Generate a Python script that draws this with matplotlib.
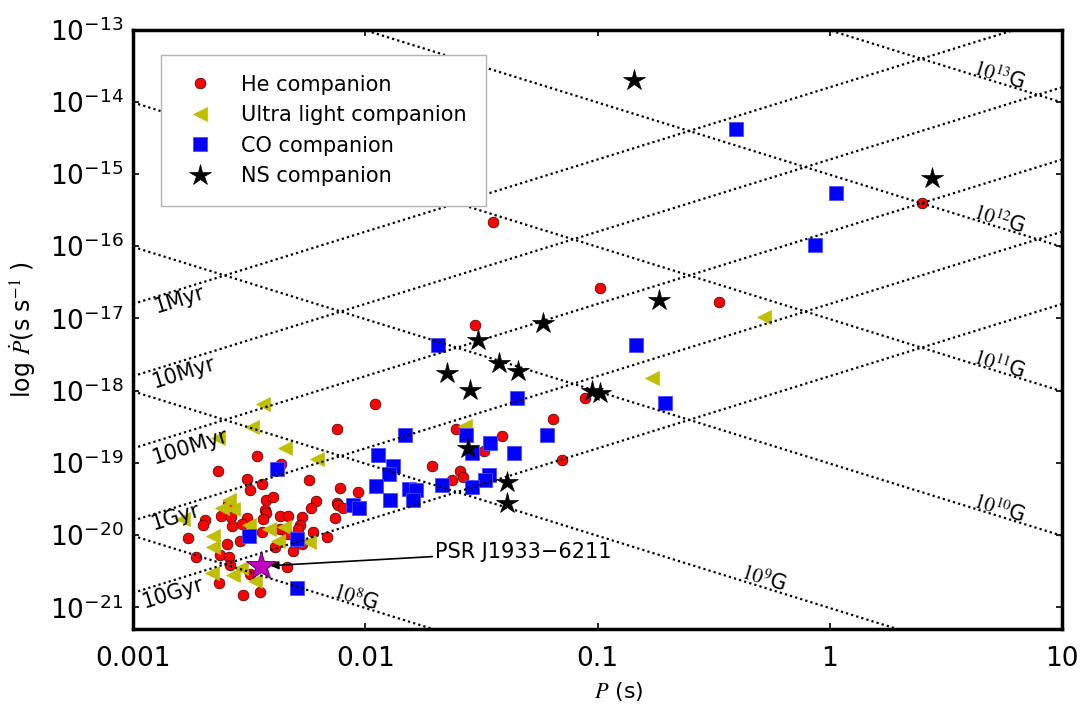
import numpy as np
import matplotlib
matplotlib.use('Agg')
import matplotlib.pyplot as plt
from matplotlib.ticker import FixedLocator, FixedFormatter, NullLocator

plt.rcParams['mathtext.fontset'] = 'stix'
plt.rcParams['font.family'] = ['DejaVu Sans']

# ---------------- data (log10 P [s], log10 Pdot [s/s]) ----------------
he_logP = [-1.450, -0.989, -0.476, 0.399, -1.527, -1.958, -1.054, -1.151, -2.120, -1.611,
           -1.410, -1.190, -1.487, -1.714, -1.592, -1.580, -1.628, -2.109, -2.030, -2.123,
           -2.116, -2.097, -2.130, -2.467, -2.636, -2.364, -2.510, -2.241, -2.446, -2.496,
           -2.427, -2.396, -2.212, -2.235, -2.432, -2.427, -2.439, -2.365, -2.333, -2.274,
           -2.279, -2.690, -2.697, -2.621, -2.578, -2.575, -2.507, -2.532, -2.590, -2.762,
           -2.595, -2.539, -2.729, -2.625, -2.587, -2.582, -2.630, -2.526, -2.454, -2.496,
           -2.338, -2.446, -2.367, -2.338, -2.310, -2.389, -2.226, -2.163, -2.290, -2.274]
he_logPdot = [-15.67, -16.58, -16.78, -15.40, -17.09, -18.18, -18.10, -18.96, -18.53, -18.53,
              -18.63, -18.40, -18.84, -19.04, -19.11, -19.20, -19.24, -19.35, -19.40, -19.55,
              -19.59, -19.63, -19.76, -18.90, -19.12, -19.02, -19.22, -19.24, -19.29, -19.37,
              -19.52, -19.47, -19.53, -19.62, -19.66, -19.70, -19.78, -19.73, -19.73, -19.75,
              -19.86, -19.79, -19.86, -19.73, -19.75, -19.88, -19.76, -19.85, -19.57, -20.04,
              -20.13, -20.08, -20.31, -20.28, -20.30, -20.41, -20.66, -20.83, -20.79, -20.54,
              -20.44, -19.96, -19.92, -19.99, -20.22, -20.17, -19.96, -20.03, -19.91, -20.12]

ul_logP = [-0.283, -0.767, -1.570, -2.439, -2.489, -2.346, -2.206, -2.633, -2.585, -2.615,
           -2.568, -2.654, -2.654, -2.501, -2.414, -2.350, -2.377, -2.242, -2.661, -2.569,
           -2.535, -2.475, -2.783]
ul_logPdot = [-16.98, -17.82, -18.49, -18.18, -18.51, -18.79, -18.95, -18.66, -19.52, -19.62,
              -19.64, -20.02, -20.17, -19.86, -19.92, -19.89, -20.08, -20.09, -20.53, -20.56,
              -20.46, -20.64, -19.78]

co_logP = [-0.405, 0.028, -0.064, -0.833, -0.708, -1.685, -1.345, -1.829, -1.566, -1.463,
           -1.216, -1.360, -1.542, -1.944, -1.882, -1.896, -1.466, -1.484, -1.954, -1.670,
           -1.539, -1.810, -1.781, -1.893, -1.796, -2.054, -2.026, -2.379, -2.501, -2.295,
           -2.293]
co_logPdot = [-14.38, -15.26, -15.99, -17.37, -18.17, -17.37, -18.10, -18.61, -18.62, -18.73,
              -18.61, -18.86, -18.87, -18.89, -19.04, -19.15, -19.17, -19.24, -19.32, -19.31,
              -19.33, -19.36, -19.37, -19.51, -19.52, -19.58, -19.62, -19.09, -20.02, -20.06,
              -20.74]

ns_logP = [-0.843, 0.440, -0.735, -1.233, -1.515, -1.424, -1.342, -1.648, -1.549, -1.024,
           -0.989, -1.558, -1.388, -1.390]
ns_logPdot = [-13.70, -15.06, -16.75, -17.07, -17.30, -17.62, -17.73, -17.76, -17.99, -18.01,
              -18.04, -18.79, -19.27, -19.55]

j1933_P = 0.003543
j1933_Pdot = 3.7e-21

B_fields = [1e8, 1e9, 1e10, 1e11, 1e12, 1e13]          # Gauss
ages_yr = [1e6, 1e7, 1e8, 1e9, 1e10]                   # years
age_labels = ['1Myr', '10Myr', '100Myr', '1Gyr', '10Gyr']
B_labels = [r'$\mathit{10^{8}}$G', r'$\mathit{10^{9}}$G', r'$\mathit{10^{10}}$G',
            r'$\mathit{10^{11}}$G', r'$\mathit{10^{12}}$G', r'$\mathit{10^{13}}$G']

xtick_vals = [1e-3, 1e-2, 1e-1, 1, 10]
xtick_labels = ['0.001', '0.01', '0.1', '1', '10']
ytick_exps = list(range(-21, -12))

# ---------------- figure ----------------
fig = plt.figure(figsize=(10.87, 7.11), dpi=100)
ax = fig.add_axes([133 / 1087, 1 - 629 / 711, 929 / 1087, 599.5 / 711])
ax.set_xscale('log')
ax.set_yscale('log')
ax.set_xlim(1e-3, 10)
ax.set_ylim(5e-22, 1e-13)

Pgrid = np.logspace(-3, 1, 300)
for B in B_fields:
    ax.plot(Pgrid, (B / 3.2e19) ** 2 / Pgrid, color='k', ls=(0, (1.0, 1.4)), lw=1.6, zorder=3)
yr = 3.156e7
for t in ages_yr:
    ax.plot(Pgrid, Pgrid / (2 * t * yr), color='k', ls=(0, (1.0, 1.4)), lw=1.6, zorder=3)

ax.plot(10 ** np.array(he_logP), 10 ** np.array(he_logPdot), 'o', color='r', ms=7.8,
        mec='k', mew=0.4, ls='none', label='He companion', zorder=2)
ax.plot(10 ** np.array(ul_logP), 10 ** np.array(ul_logPdot), '<', color='y', ms=10,
        mec='y', mew=0.5, ls='none', label='Ultra light companion', zorder=2)
ax.plot(10 ** np.array(co_logP), 10 ** np.array(co_logPdot), 's', color='b', ms=10,
        mec=(0.3, 0.3, 1.0), mew=0.6, ls='none', label='CO companion', zorder=2)
ax.plot(10 ** np.array(ns_logP), 10 ** np.array(ns_logPdot), '*', color='k', ms=16,
        mec='k', mew=0.5, ls='none', label='NS companion', zorder=2)
ax.plot([j1933_P], [j1933_Pdot], '*', color='m', ms=22, mec=(0.25, 0, 0.35), mew=0.6,
        ls='none', zorder=4)

ax.annotate('PSR J1933\u22126211', xy=(j1933_P, j1933_Pdot), xytext=(0.0200, 4.3e-21),
            fontsize=15, ha='left', va='bottom',
            arrowprops=dict(arrowstyle='-|>', color='k', lw=1.2, shrinkA=0, shrinkB=7,
                            mutation_scale=12), zorder=5)

# line labels
rot = np.degrees(np.arctan(72.4 / 232.25))
age_pos = [(1.58e-3, 1.84e-17), (1.66e-3, 1.75e-18), (1.76e-3, 1.66e-19),
           (1.53e-3, 1.80e-20), (1.49e-3, 1.60e-21)]
for (x, y), lab in zip(age_pos, age_labels):
    ax.text(x, y, lab, fontsize=15, rotation=rot, ha='center', va='center',
            rotation_mode='anchor', zorder=4)
B_pos = [(9.04e-3, 1.36e-21), (0.516, 2.50e-21), (5.36, 2.32e-20),
         (5.36, 2.33e-18), (5.36, 2.34e-16), (5.36, 2.29e-14)]
for (x, y), lab in zip(B_pos, B_labels):
    ax.text(x, y, lab, fontsize=15, rotation=-rot, ha='center', va='center',
            rotation_mode='anchor', zorder=4)

# ticks
ax.xaxis.set_major_locator(FixedLocator(xtick_vals))
ax.xaxis.set_major_formatter(FixedFormatter(xtick_labels))
ax.yaxis.set_major_locator(FixedLocator([10.0 ** e for e in ytick_exps]))
ax.yaxis.set_major_formatter(FixedFormatter([r'$\mathdefault{10^{%d}}$' % e for e in ytick_exps]))
ax.xaxis.set_minor_locator(NullLocator())
ax.yaxis.set_minor_locator(NullLocator())
ax.tick_params(which='major', direction='in', length=4, width=1.2, labelsize=19,
               top=True, right=True)
ax.tick_params(axis='x', pad=12)
ax.tick_params(axis='y', pad=7)
for s in ax.spines.values():
    s.set_linewidth(2.5)

ax.set_xlabel(r'$P$ (s)', fontsize=16)
ax.xaxis.set_label_coords(0.523, -0.085)
ax.set_ylabel(r'log $\dot{P}$(s s$^{-1}$ )', fontsize=17)
ax.yaxis.set_label_coords(-0.102, 0.5)

leg = ax.legend(loc='upper left', bbox_to_anchor=(0.030, 0.9575), numpoints=1,
                fontsize=15, fancybox=False, framealpha=1, edgecolor='0.7',
                borderpad=0.95, handlelength=1.9, handletextpad=1.0, labelspacing=0.5,
                borderaxespad=0)
leg.set_zorder(6)
leg.get_frame().set_linewidth(1.0)

fig.savefig('out.png', dpi=100)
